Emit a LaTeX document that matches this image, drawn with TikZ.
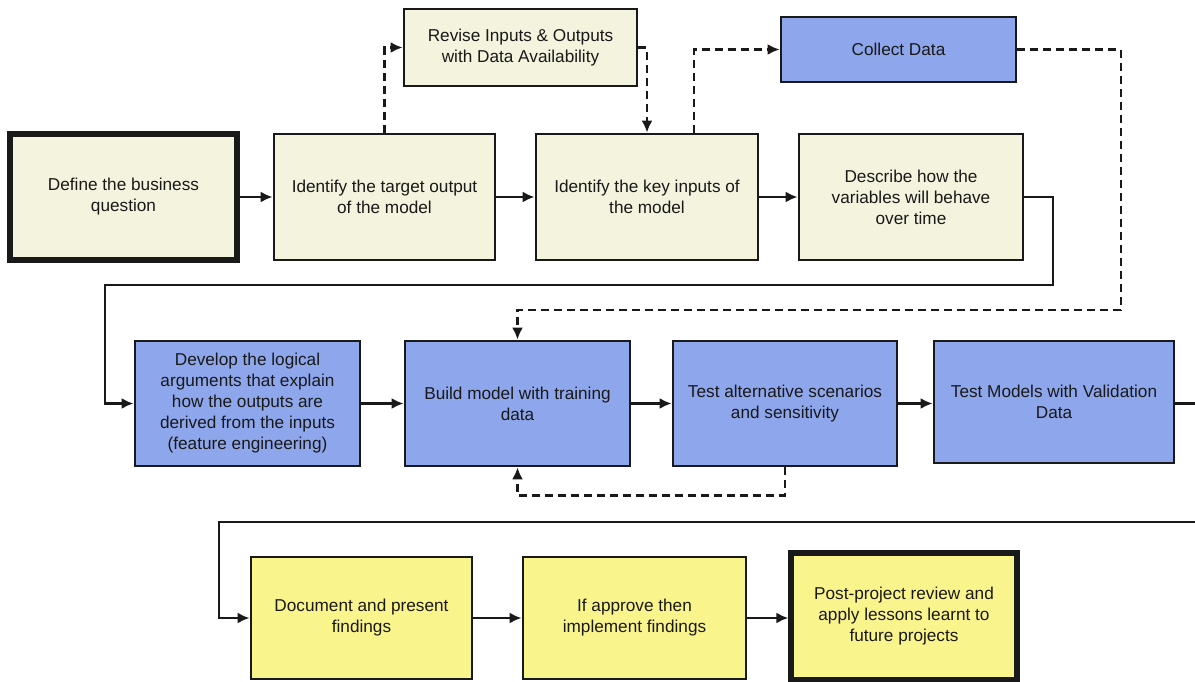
\documentclass[tikz,border=0pt]{standalone}
\usepackage{fontspec}
\setmainfont{Liberation Sans}
\usepackage{tikz}
\usetikzlibrary{arrows.meta}

\definecolor{creamfill}{RGB}{243,243,222}
\definecolor{bluefill}{RGB}{142,166,236}
\definecolor{yellowfill}{RGB}{250,244,140}
\definecolor{inkcol}{RGB}{25,25,25}

\tikzset{
  stepbox/.style={draw=inkcol, line width=1.4pt, align=center, inner sep=0pt,
    text=inkcol, font=\fontsize{8.6}{10.5}\selectfont},
  cream/.style={stepbox, fill=creamfill},
  blue/.style={stepbox, fill=bluefill},
  yellow/.style={stepbox, fill=yellowfill},
  heavy/.style={line width=2.6pt},
  flow/.style={draw=inkcol, line width=1.3pt, -{Latex[length=6pt,width=5.5pt]}},
  dashflow/.style={flow, dash pattern=on 4pt off 2.5pt},
}

\begin{document}
\begin{tikzpicture}[x=0.5pt,y=-0.5pt]
       \useasboundingbox (0,0) rectangle (1195,681);

       \node[cream, heavy, minimum width=113.5pt, minimum height=63pt] (def) at (123.5,197) {Define the business\\question};
       \node[cream, minimum width=110.5pt, minimum height=63pt] (tgt) at (384.5,197) {Identify the target output\\of the model};
       \node[cream, minimum width=111pt, minimum height=63pt] (key) at (647,197) {Identify the key inputs of\\the model};
       \node[cream, minimum width=112pt, minimum height=63pt] (desc) at (911,197) {Describe how the\\variables will behave\\over time};
       \node[cream, minimum width=116.5pt, minimum height=38.5pt] (rev) at (520.5,47.5) {Revise Inputs \& Outputs\\with Data Availability};
       \node[blue, minimum width=117.5pt, minimum height=32.5pt] (coll) at (898.5,49.5) {Collect Data};

       \node[blue, minimum width=112.5pt, minimum height=62.5pt] (dev) at (247.5,403.5) {Develop the logical\\arguments that explain\\how the outputs are\\derived from the inputs\\(feature engineering)};
       \node[blue, minimum width=112.5pt, minimum height=62.5pt] (build) at (517.5,403.5) {Build model with training\\data};
       \node[blue, minimum width=112pt, minimum height=62.5pt] (alt) at (785,403.5) {Test alternative scenarios\\and sensitivity};
       \node[blue, minimum width=120pt, minimum height=61pt] (val) at (1054,402) {Test Models with Validation\\Data};

       \node[yellow, minimum width=110.5pt, minimum height=61pt] (doc) at (361.5,618) {Document and present\\findings};
       \node[yellow, minimum width=111.5pt, minimum height=61pt] (appr) at (634.5,618) {If approve then\\implement findings};
       \node[yellow, heavy, minimum width=113pt, minimum height=63.5pt] (post) at (904,616.5) {Post-project review and\\apply lessons learnt to\\future projects};

       \coordinate (wrapA) at (1053,285);
       \coordinate (wrapB) at (105,285);
       \coordinate (dloop) at (1121,310);
       \coordinate (edgeturn) at (1215,522);
       \coordinate (wrapC) at (219,522);

       \draw[flow] (def) -- (tgt);
       \draw[flow] (tgt) -- (key);
       \draw[flow] (key) -- (desc);
       \draw[flow] (desc.east) -| (wrapA) -- (wrapB) |- (dev.west);

       \draw[flow] (dev) -- (build);
       \draw[flow] (build) -- (alt);
       \draw[flow] (alt.east) -- (alt.east -| val.west);
       \draw[flow] (val.east |- alt.east) -| (edgeturn) -- (wrapC) |- (doc.west);

       \draw[flow] (doc) -- (appr);
       \draw[flow] (appr.east) -- (appr.east -| post.west);

       \draw[dashflow] (tgt.north) |- (rev.west);
       \draw[dashflow] (rev.east) -| (key.north);
       \draw[dashflow] ([xshift=23.5pt]key.north) |- (coll.west);
       \draw[dashflow] (coll.east) -| (dloop) -| (build.north);
       \draw[dashflow] (alt.south) -- ++(0,28) -| (build.south);
\end{tikzpicture}
\end{document}
